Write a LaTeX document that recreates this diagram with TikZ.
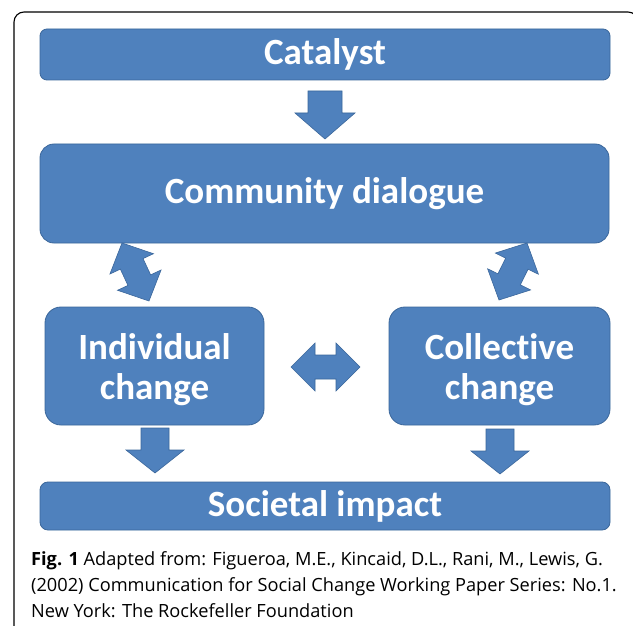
\documentclass[tikz,border=0pt]{standalone}
\usepackage{fontspec}
\setmainfont{Open Sans}
\newfontfamily\boxfont[Ligatures=NoCommon]{Carlito}
\usetikzlibrary{calc}
\definecolor{boxblue}{HTML}{4F81BD}
\definecolor{boxedge}{HTML}{3B679B}

% block arrows: start, tip, shaft half width, head half width, head length
\newcommand{\onearrow}[5]{%
  \coordinate (hb) at ($(#2)!#5!(#1)$);
  \filldraw[blockarrow] ($(#1)!#3!90:(#2)$) -- ($(hb)!#3!90:(#2)$) -- ($(hb)!#4!90:(#2)$) -- (#2)
    -- ($(hb)!#4!-90:(#2)$) -- ($(hb)!#3!-90:(#2)$) -- ($(#1)!#3!-90:(#2)$) -- cycle;}
\newcommand{\twoarrow}[5]{%
  \coordinate (hba) at ($(#1)!#5!(#2)$);
  \coordinate (hbb) at ($(#2)!#5!(#1)$);
  \filldraw[blockarrow] (#1) -- ($(hba)!#4!90:(#2)$) -- ($(hba)!#3!90:(#2)$) -- ($(hbb)!#3!90:(#2)$)
    -- ($(hbb)!#4!90:(#2)$) -- (#2) -- ($(hbb)!#4!-90:(#2)$) -- ($(hbb)!#3!-90:(#2)$)
    -- ($(hba)!#3!-90:(#2)$) -- ($(hba)!#4!-90:(#2)$) -- cycle;}

\begin{document}
\begin{tikzpicture}[x=1pt,y=-1pt]
\tikzstyle{stage}=[rectangle, fill=boxblue, draw=boxedge, line width=0.8pt, text=white, inner sep=0pt,
  align=center, font=\boxfont\bfseries\fontsize{37}{40}\selectfont]
\tikzstyle{blockarrow}=[fill=boxblue, draw=boxedge, line width=0.6pt, line join=miter]
\clip (0,0) rectangle (633,626);
\fill[white] (0,0) rectangle (633,626);
\draw[line width=1.1pt, rounded corners=10pt] (14,640) -- (14,12) -- (638,12) -- (638,640);
% boxes
\draw (325,54.5) node (catalyst) [stage, minimum width=570pt, minimum height=51pt, rounded corners=7pt] {Catalyst};
\draw (324.5,193.5) node (dialogue) [stage, minimum width=569pt, minimum height=99pt, rounded corners=14pt] {Community dialogue};
\draw (154.5,366) node (indiv) [stage, minimum width=219pt, minimum height=118pt, rounded corners=16pt] {\rule{0pt}{34pt}Individual\\change};
\draw (499.5,366) node (collect) [stage, minimum width=221pt, minimum height=118pt, rounded corners=16pt] {\rule{0pt}{34pt}Collective\\change};
\draw (325,506) node (impact) [stage, minimum width=570pt, minimum height=48pt, rounded corners=8pt] {Societal impact};
% arrow ends
\coordinate (cat-s) at (325,91);
\coordinate (cat-t) at (325,139);
\coordinate (il-s) at (122,243);
\coordinate (il-t) at (149,301);
\coordinate (cr-s) at (527,243);
\coordinate (cr-t) at (499,300);
\coordinate (mid-s) at (291,367);
\coordinate (mid-t) at (360,367);
\coordinate (ind-s) at (155,428);
\coordinate (ind-t) at (155,473);
\coordinate (col-s) at (500,429);
\coordinate (col-t) at (500,474);
\onearrow{cat-s}{cat-t}{17pt}{30pt}{26pt}
\twoarrow{il-s}{il-t}{12.5pt}{24pt}{23pt}
\twoarrow{cr-s}{cr-t}{12.5pt}{24pt}{23pt}
\twoarrow{mid-s}{mid-t}{12pt}{24pt}{24pt}
\onearrow{ind-s}{ind-t}{14pt}{29pt}{23pt}
\onearrow{col-s}{col-t}{14pt}{29pt}{23pt}
% caption
\draw (31,617) node (caption) [anchor=base west, align=left, inner sep=0pt, font=\fontsize{18.2}{26}\selectfont]
  {\textbf{Fig. 1} Adapted from: Figueroa, M.E., Kincaid, D.L., Rani, M., Lewis, G.\\
   (2002) Communication for Social Change Working Paper Series: No.1.\\
   New York: The Rockefeller Foundation};
\end{tikzpicture}
\end{document}
